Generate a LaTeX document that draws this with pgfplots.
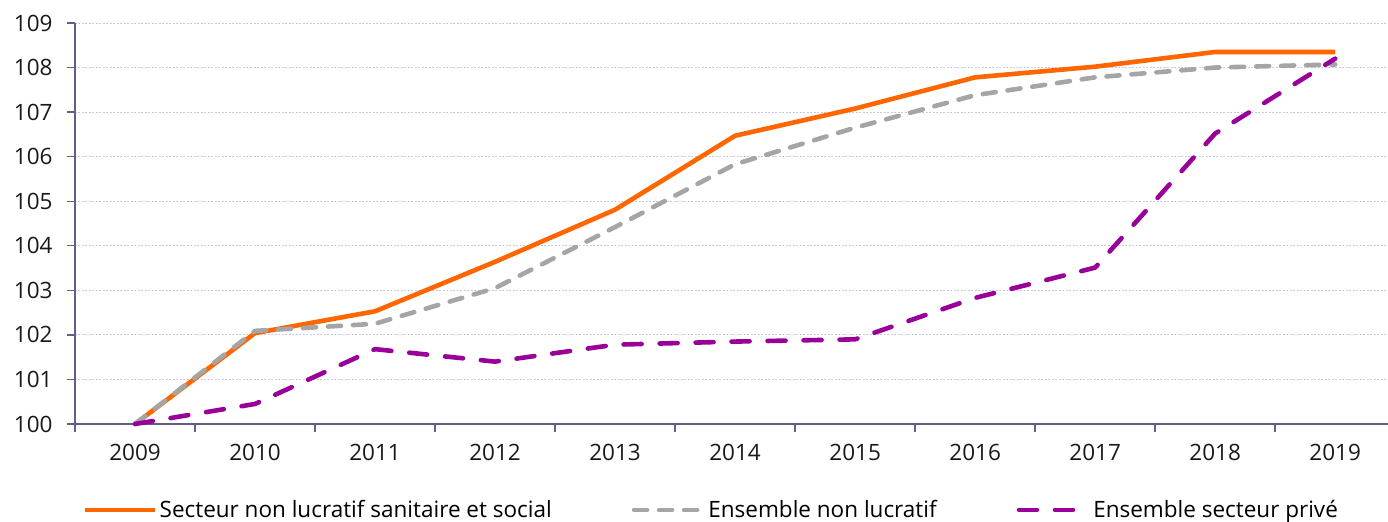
\documentclass[border=0pt]{standalone}
\usepackage{pgfplots}
\pgfplotsset{compat=1.18}
\usepackage{fontspec}
\setmainfont{Open Sans}
\definecolor{orangeS}{RGB}{255,102,0}
\definecolor{grayS}{RGB}{165,165,165}
\definecolor{purpleS}{RGB}{153,0,153}
\definecolor{axisc}{RGB}{95,95,135}
\definecolor{gridc}{RGB}{200,200,225}
\begin{document}
\begin{tikzpicture}
\path[use as bounding box] (-75bp,-98bp) rectangle (1313bp,424bp);
\begin{axis}[
  at={(0,0)}, anchor=south west,
  scale only axis, width=1313bp, height=401bp,
  xmin=-0.5, xmax=10.44, ymin=100, ymax=109,
  axis x line=bottom, axis y line=left,
  axis line style={-, draw=axisc, line width=1.4bp},
  xtick={0,...,10},
  xticklabels={2009,2010,2011,2012,2013,2014,2015,2016,2017,2018,2019},
  minor xtick={-0.5,0.5,...,9.5},
  major x tick style={draw=none},
  minor x tick style={draw=axisc, line width=1.4bp},
  minor tick length=8bp,
  ytick={100,...,109},
  y tick style={draw=axisc, line width=1.4bp},
  major tick length=8bp,
  tick align=outside,
  ymajorgrids,
  major grid style={draw=gridc, line width=0.8bp, dash pattern=on 2bp off 1.5bp},
  tick label style={font=\fontsize{22.5bp}{26bp}\selectfont, text=black!90},
  /pgf/number format/assume math mode=true,
  yticklabel style={xshift=-11bp},
  xticklabel style={yshift=-9bp},
  clip=false,
  legend columns=3,
  legend style={draw=none, fill=none, inner sep=0pt,
    at={(axis description cs:0.006,-0.214)}, anchor=west,
    font=\fontsize{22.5bp}{26bp}\selectfont,
    /tikz/every even column/.append style={column sep=78bp}},
  legend image code/.code={\draw[#1] (0bp,0bp) -- (70bp,0bp);},
]
\addplot[orangeS, line width=4.6bp, line join=round] coordinates {
 (0,100) (1,102.04) (2,102.53) (3,103.64) (4,104.81) (5,106.47) (6,107.08) (7,107.78) (8,108.02) (9,108.35) (10,108.35)};
\addlegendentry{Secteur non lucratif sanitaire et social}
\addplot[grayS, line width=4.6bp, line cap=round, line join=round, dash pattern=on 13bp off 12bp] coordinates {
 (0,100) (1,102.09) (2,102.25) (3,103.05) (4,104.42) (5,105.83) (6,106.65) (7,107.38) (8,107.78) (9,108.0) (10,108.07)};
\addlegendentry{Ensemble non lucratif}
\addplot[purpleS, line width=4.6bp, line cap=round, line join=round, dash pattern=on 18bp off 18bp] coordinates {
 (0,100) (1,100.45) (2,101.68) (3,101.4) (4,101.78) (5,101.85) (6,101.9) (7,102.83) (8,103.51) (9,106.52) (10,108.2)};
\addlegendentry{Ensemble secteur privé}
\end{axis}
\end{tikzpicture}
\end{document}
